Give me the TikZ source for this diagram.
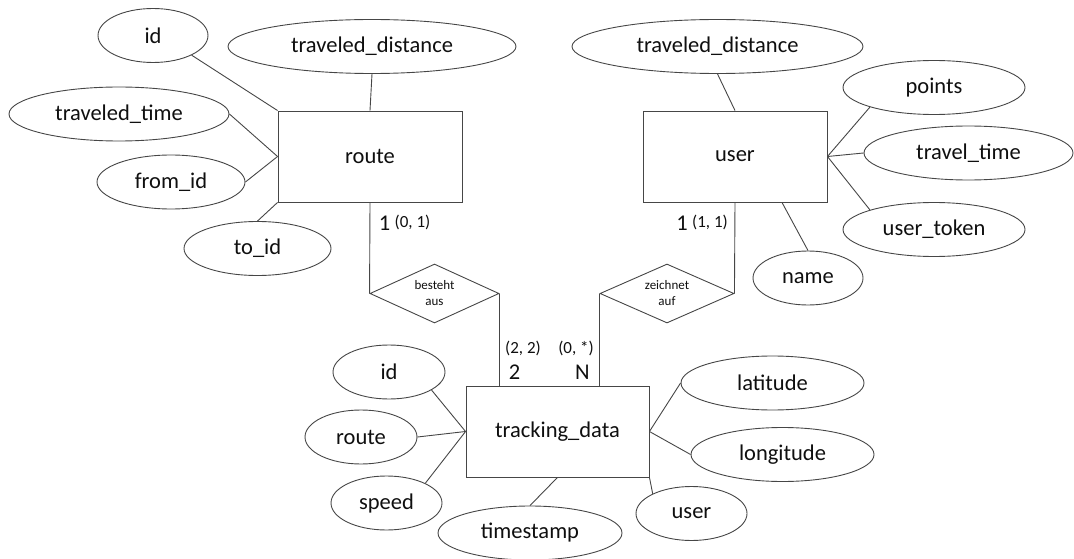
\documentclass[tikz,border=0pt]{standalone}
\usepackage{fontspec}
\setmainfont{Carlito}
\usetikzlibrary{shapes.geometric,calc}
\definecolor{ln}{RGB}{70,70,70}
\definecolor{tx}{RGB}{15,15,15}
\tikzset{
  base/.style={draw=ln, line width=0.9pt, inner sep=0pt, text=tx, font=\fontsize{22.5}{24}\selectfont},
  attr/.style={base, ellipse, minimum height=54pt},
  ent/.style={base, rectangle, minimum width=184pt, minimum height=91pt},
  rel/.style={base, diamond, aspect=2.2, font=\fontsize{13}{16}\selectfont, align=center},
  card/.style={inner sep=0pt, text=tx, font=\fontsize{22.5}{24}\selectfont},
  cardsm/.style={inner sep=0pt, text=tx, font=\fontsize{17}{19}\selectfont},
  conn/.style={draw=ln, line width=0.9pt}
}
\begin{document}
\begin{tikzpicture}[x=1pt,y=-1pt]
\useasboundingbox (0,0) rectangle (1074,559);
% entities
\node[ent] (route) at (370,156.5) {route};
\node[ent] (user) at (735,156.5) {user};
\node[ent, minimum width=183pt] (track) at (557.5,431.5) {tracking\_data};
% relationships
\node[rel, minimum width=129pt, minimum height=59pt] (besteht) at (434.5,293.5) {besteht\\aus};
\node[rel, minimum width=134pt, minimum height=59pt] (zeichnet) at (667,293.5) {zeichnet\\auf};
% route attributes
\node[attr, minimum width=110pt] (rid) at (153,35.5) {id};
\node[attr, minimum width=288pt] (rdist) at (372,46.5) {traveled\_distance};
\node[attr, minimum width=220pt] (rtime) at (119,114) {traveled\_time};
\node[attr, minimum width=148pt] (rfrom) at (171,182) {from\_id};
\node[attr, minimum width=147pt] (rto) at (257.5,248.5) {to\_id};
% user attributes
\node[attr, minimum width=291pt] (udist) at (717.5,46.5) {traveled\_distance};
\node[attr, minimum width=182pt] (upoints) at (934,87.5) {points};
\node[attr, minimum width=209pt] (utime) at (968.5,153) {travel\_time};
\node[attr, minimum width=182pt] (utoken) at (934,229.5) {user\_token};
\node[attr, minimum width=110pt] (uname) at (808,278) {name};
% tracking attributes
\node[attr, minimum width=112pt] (tid) at (389,372) {id};
\node[attr, minimum width=112pt] (troute) at (361,437) {route};
\node[attr, minimum width=111pt] (tspeed) at (386.5,503) {speed};
\node[attr, minimum width=184pt] (tstamp) at (530,533) {timestamp};
\node[attr, minimum width=183pt] (tlat) at (772.5,383) {latitude};
\node[attr, minimum width=183pt] (tlon) at (782.5,454.5) {longitude};
\node[attr, minimum width=111pt] (tuser) at (691.5,513.5) {user};
% connectors route
\draw[conn] (rid.-27) -- (route.north west);
\draw[conn] (rdist.south) -- (route.north);
\draw[conn] (rtime.east) -- (route.west);
\draw[conn] (rfrom.east) -- (route.west);
\draw[conn] (rto.north) -- (route.south west);
% connectors user
\draw[conn] (udist.south) -- (user.north);
\draw[conn] (upoints.197) -- (user.east);
\draw[conn] (utime.west) -- (user.east);
\draw[conn] (utoken.163) -- (user.east);
\draw[conn] (uname.north) -- ([xshift=47pt]user.south);
% connectors tracking
\draw[conn] (tid.-23) -- (track.west);
\draw[conn] (troute.east) -- (track.west);
\draw[conn] (tspeed.27) -- (track.west);
\draw[conn] (tstamp.north) -- (track.south);
\draw[conn] (tlat.west) -- (track.east);
\draw[conn] (tlon.west) -- (track.east);
\draw[conn] (tuser.153) -- (track.south east);
% relationship connectors
\draw[conn] (route.south) -- (besteht.west);
\draw[conn] (besteht.east) -- (besteht.east |- track.north);
\draw[conn] (user.south) -- (zeichnet.east);
\draw[conn] (zeichnet.west) -- (zeichnet.west |- track.north);
% cardinalities
\node[card] (c1) at (384.5,223) {1};
\node[cardsm] (c1s) at (412.5,222) {(0, 1)};
\node[card] (c2) at (682,223) {1};
\node[cardsm] (c2s) at (710,222) {(1, 1)};
\node[cardsm] (c3s) at (523,348) {(2, 2)};
\node[card] (c3) at (514.5,372) {2};
\node[cardsm] (c4s) at (576,348) {(0, *)};
\node[card] (c4) at (582.5,372) {N};
\end{tikzpicture}
\end{document}
